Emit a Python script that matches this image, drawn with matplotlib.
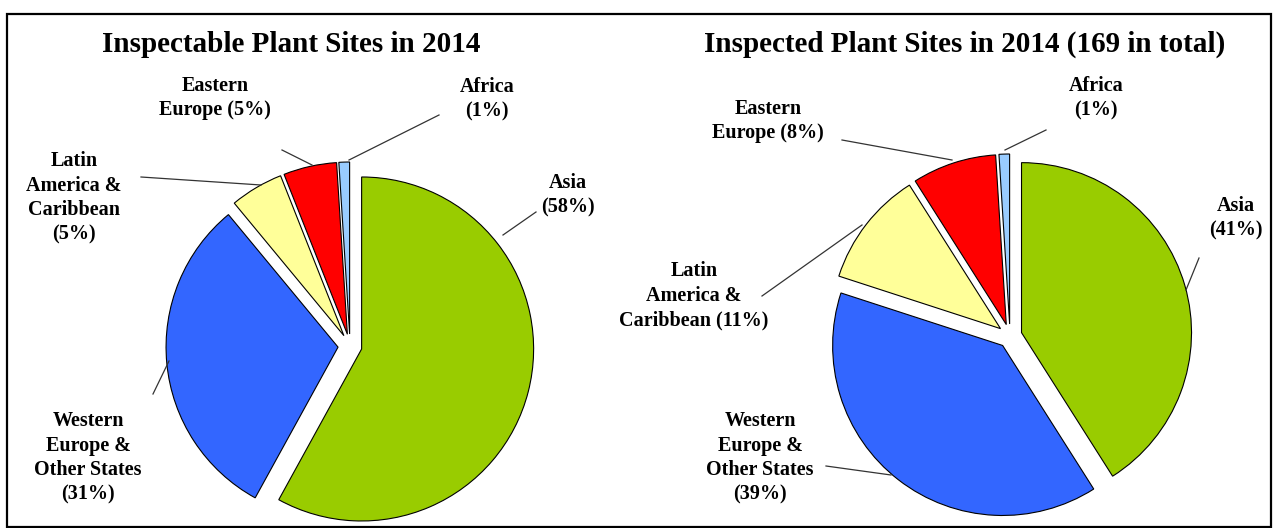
import matplotlib.pyplot as plt
from matplotlib.patches import Rectangle

# Data
regions_left = ['Asia', 'Western Europe & Other States', 'Latin America & Caribbean',
                'Eastern Europe', 'Africa']
share_left = [58, 31, 5, 5, 1]
labels_left = ['Asia\n(58%)', 'Western\nEurope &\nOther States\n(31%)',
               'Latin\nAmerica &\nCaribbean\n(5%)', 'Eastern\nEurope (5%)', 'Africa\n(1%)']

regions_right = regions_left
share_right = [41, 39, 11, 8, 1]
labels_right = ['Asia\n(41%)', 'Western\nEurope &\nOther States\n(39%)',
                'Latin\nAmerica &\nCaribbean (11%)', 'Eastern\nEurope (8%)', 'Africa\n(1%)']

titles = ['Inspectable Plant Sites in 2014', 'Inspected Plant Sites in 2014 (169 in total)']
colors = ['#99CC00', '#3366FF', '#FFFF99', '#FF0000', '#99CCFF']

W, H = 1278, 528
plt.rcParams['font.family'] = ['Liberation Serif', 'DejaVu Serif']

fig = plt.figure(figsize=(W / 100, H / 100), dpi=100)
ax = fig.add_axes([0, 0, 1, 1])

def py(y):
    # pixel row (from top) -> axes y
    return H - y

# pie layout: centre (px), radius, title x, label positions, leader lines
layouts = [
    dict(center=(350, 346), r=172, title_x=291,
         label_xy=[(568, 195), (88, 458), (74, 198), (215, 98), (487, 99)],
         leaders=[((503, 235), (536, 212)), ((153, 394), (169, 361)),
                  ((141, 177), (261, 185)), ((282, 150), (312, 165)),
                  ((439, 115), (349, 160))]),
    dict(center=(1010, 336), r=170, title_x=965,
         label_xy=[(1236, 218), (760, 458), (694, 296), (768, 121), (1096, 98)],
         leaders=[((1199, 258), (1186, 290)), ((826, 466), (891, 475)),
                  ((762, 296), (862, 225)), ((842, 140), (952, 160)),
                  ((1046, 130), (1005, 150))]),
]

for vals, labs, lay, title in zip([share_left, share_right], [labels_left, labels_right],
                                  layouts, titles):
    cx, cy = lay['center']
    # explode is in data units (pixels here)
    ax.pie(vals, colors=colors, startangle=90, counterclock=False,
           explode=[12] * len(vals), center=(cx, py(cy)), radius=lay['r'],
           frame=True, wedgeprops=dict(edgecolor='black', linewidth=0.8))
    for (x0, y0), (x1, y1) in lay['leaders']:
        ax.plot([x0, x1], [py(y0), py(y1)], color='#333333', linewidth=0.9)
    for lab, (lx, ly) in zip(labs, lay['label_xy']):
        ax.text(lx, py(ly), lab, ha='center', va='center', fontsize=14.5,
                fontweight='bold', linespacing=1.3)
    ax.text(lay['title_x'], py(44), title, ha='center', va='center',
            fontsize=21, fontweight='bold')

ax.add_patch(Rectangle((7, 1), 1264, 513, fill=False, edgecolor='black', linewidth=1.6))

ax.set_xlim(0, W)
ax.set_ylim(0, H)
ax.set_aspect('auto')
ax.axis('off')

fig.savefig('out.png', dpi=100)
